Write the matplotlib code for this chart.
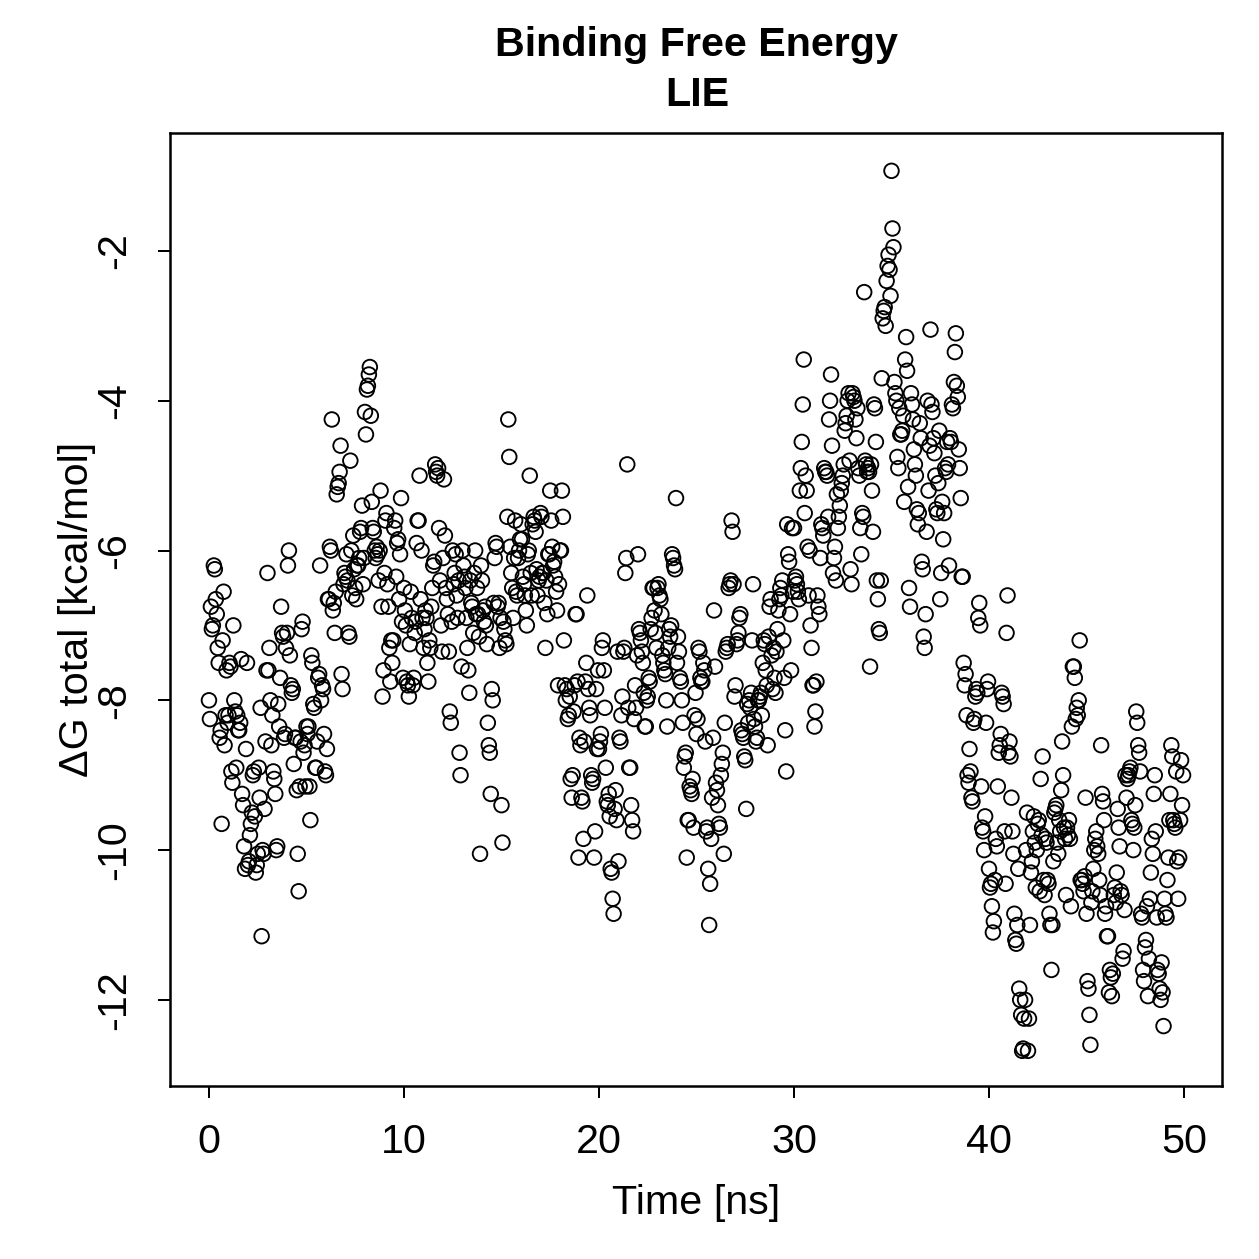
import numpy as np
import matplotlib
matplotlib.use("Agg")
import matplotlib.pyplot as plt

plt.rcParams['font.family'] = ['Liberation Sans', 'DejaVu Sans']

# dG total [kcal/mol], sampled every 0.05 ns; one row per ns
dg_00_10 = [
    -8.0, -8.25, -6.75, -7.05, -7.0, -6.2, -6.25, -6.65, -6.85, -7.3, -7.5, -8.5, -8.4, -9.65, -7.2, -6.55, -8.6, -8.2, -7.6, -8.3,
    -8.2, -7.5, -7.55, -8.95, -9.1, -7.0, -8.0, -8.15, -8.9, -8.2, -8.4, -8.4, -8.3, -7.45, -9.25, -9.4, -9.95, -10.25, -8.65, -7.5,
    -10.2, -10.15, -9.8, -9.65, -9.5, -9.0, -8.95, -9.55, -10.3, -10.2, -10.05, -8.9, -9.3, -8.1, -11.15, -10.0, -10.05, -9.45, -8.55, -7.6,
    -6.3, -7.6, -7.3, -8.0, -8.6, -8.2, -8.95, -9.05, -9.25, -10.0, -9.95, -8.05, -8.35, -7.7, -6.75, -7.1, -7.15, -8.5, -8.45, -7.3,
    -7.1, -6.2, -6.0, -7.4, -7.8, -7.9, -7.85, -8.85, -8.5, -8.5, -9.2, -10.05, -10.55, -9.15, -8.55, -7.05, -6.95, -8.7, -8.6, -9.15,
    -8.35, -8.45, -8.35, -9.15, -9.6, -7.4, -7.5, -8.05, -8.1, -8.9, -8.9, -8.55, -7.7, -7.65, -6.2, -8.0, -7.8, -7.85, -8.45, -8.95,
    -9.0, -8.65, -6.65, -6.65, -5.95, -6.0, -4.25, -6.8, -6.7, -7.1, -6.55, -5.25, -5.15, -5.1, -4.95, -4.6, -7.65, -7.85, -6.45, -6.3,
    -6.35, -6.05, -6.4, -7.1, -7.15, -4.8, -6.0, -6.6, -5.8, -6.25, -6.5, -6.65, -6.2, -6.2, -6.1, -5.75, -5.7, -5.4, -6.45, -6.1,
    -4.15, -4.45, -3.85, -3.8, -3.65, -3.55, -4.2, -5.35, -5.7, -5.75, -6.0, -6.1, -5.95, -6.05, -6.4, -6.0, -5.2, -6.75, -7.95, -7.6,
    -6.3, -5.6, -5.5, -6.45, -6.75, -7.3, -7.75, -7.2, -7.5, -7.2, -5.7, -5.6, -6.35, -5.9, -5.85, -6.65, -6.05, -5.3, -6.95, -7.7,
]
dg_10_20 = [
    -6.5, -6.8, -7.0, -7.75, -7.8, -7.95, -7.25, -6.55, -6.9, -7.8, -7.7, -7.1, -6.95, -5.9, -5.6, -5.6, -5.0, -6.65, -6.0, -6.9,
    -7.3, -7.05, -6.8, -6.9, -7.5, -7.75, -7.2, -7.3, -6.75, -6.5, -6.2, -6.15, -4.85, -4.95, -5.0, -4.9, -5.7, -6.4, -7.0, -7.35,
    -6.1, -5.05, -5.8, -6.5, -6.65, -6.85, -7.35, -8.15, -8.3, -6.95, -6.0, -6.45, -6.3, -6.05, -6.6, -6.9, -6.4, -8.7, -9.0, -7.55,
    -6.0, -6.2, -6.35, -6.5, -6.9, -7.3, -7.6, -7.9, -6.4, -6.7, -6.75, -7.1, -6.3, -6.0, -6.85, -6.5, -6.85, -7.15, -10.05, -6.2,
    -6.4, -6.8, -6.95, -6.75, -7.0, -7.25, -8.3, -8.6, -8.7, -9.25, -7.85, -8.0, -6.7, -6.1, -5.9, -5.95, -6.75, -6.7, -7.3, -6.9,
    -9.4, -9.9, -6.95, -7.05, -7.2, -7.25, -5.55, -4.25, -4.75, -5.95, -6.3, -6.5, -6.9, -6.1, -5.6, -6.55, -6.6, -6.1, -6.0, -5.85,
    -5.65, -5.85, -6.35, -6.45, -6.6, -6.8, -7.0, -6.05, -6.0, -5.0, -6.3, -6.6, -5.65, -5.55, -5.6, -5.75, -6.25, -6.6, -6.4, -6.35,
    -5.5, -5.55, -6.3, -6.3, -6.7, -7.3, -6.4, -6.85, -6.05, -6.05, -5.2, -5.6, -5.95, -6.2, -6.15, -6.35, -6.55, -6.8, -7.8, -6.45,
    -6.0, -6.0, -5.2, -5.55, -7.2, -7.8, -8.0, -7.85, -8.25, -8.2, -7.95, -9.05, -9.3, -9.0, -8.15, -7.8, -6.85, -6.85, -7.75, -10.1,
    -8.5, -8.6, -9.3, -9.35, -9.85, -8.55, -7.75, -7.5, -6.6, -7.85, -8.1, -8.2, -9.0, -9.1, -9.05, -10.1, -9.75, -7.85, -8.65, -7.6,
]
dg_20_30 = [
    -8.65, -8.55, -8.45, -7.3, -7.2, -7.6, -8.1, -8.9, -9.35, -9.4, -9.25, -9.55, -10.25, -10.3, -10.65, -10.85, -9.45, -9.2, -9.6, -7.35,
    -10.15, -8.5, -8.55, -8.2, -7.95, -7.35, -7.3, -6.3, -6.1, -4.85, -8.1, -8.9, -8.9, -9.4, -9.6, -9.75, -8.25, -7.8, -8.1, -7.4,
    -6.05, -7.05, -7.1, -7.2, -7.35, -7.5, -7.9, -8.35, -8.35, -8.0, -7.95, -7.7, -7.75, -7.05, -6.9, -6.5, -6.5, -6.8, -7.1, -7.3,
    -6.5, -6.45, -6.6, -6.65, -6.85, -7.4, -7.5, -7.6, -7.65, -8.0, -8.35, -7.3, -7.05, -7.15, -7.0, -6.05, -6.1, -6.2, -6.25, -5.3,
    -7.5, -7.15, -7.35, -7.7, -7.75, -8.0, -8.3, -8.9, -8.75, -8.7, -10.1, -9.6, -9.6, -9.15, -9.2, -9.25, -9.05, -9.7, -8.2, -7.9,
    -8.45, -8.25, -7.3, -7.35, -7.7, -7.75, -7.75, -7.5, -7.6, -8.55, -9.75, -9.7, -10.25, -11.0, -10.45, -9.85, -9.3, -8.5, -6.8, -7.55,
    -9.1, -9.2, -9.4, -9.65, -9.7, -9.0, -8.85, -8.7, -10.05, -8.3, -7.35, -7.3, -7.25, -6.5, -6.45, -6.4, -5.6, -5.75, -6.45, -7.95,
    -7.8, -7.25, -7.2, -7.1, -6.9, -6.85, -8.4, -8.45, -8.5, -8.75, -8.8, -9.45, -8.05, -8.3, -8.0, -8.1, -7.9, -7.2, -6.45, -8.25,
    -8.35, -8.55, -8.5, -8.0, -8.0, -7.95, -7.9, -8.2, -7.5, -7.2, -7.25, -7.6, -7.8, -8.6, -7.15, -6.75, -6.65, -7.4, -7.85, -7.3,
    -7.7, -7.9, -7.35, -7.05, -6.8, -6.65, -6.5, -6.6, -6.4, -7.2, -7.7, -8.4, -8.95, -5.65, -6.05, -6.15, -6.85, -7.6, -5.7, -6.55,
]
dg_30_40 = [
    -5.7, -6.4, -6.35, -6.45, -6.55, -6.65, -5.2, -4.9, -4.55, -4.05, -3.45, -5.5, -5.0, -5.2, -5.95, -6.6, -6.0, -7.0, -7.3, -7.8,
    -7.8, -8.35, -8.15, -7.75, -6.6, -6.75, -6.85, -6.1, -5.65, -5.7, -5.8, -4.9, -4.95, -4.95, -5.0, -5.55, -4.25, -4.0, -3.65, -4.6,
    -6.3, -6.1, -5.95, -6.4, -5.25, -5.7, -5.55, -5.4, -5.2, -5.1, -5.0, -4.85, -4.4, -4.3, -4.2, -4.0, -3.9, -4.8, -6.25, -6.45,
    -3.9, -3.95, -4.0, -4.25, -4.5, -4.1, -4.9, -5.0, -5.7, -6.05, -5.5, -5.55, -2.55, -4.8, -4.85, -4.95, -4.9, -4.95, -7.55, -4.85,
    -5.2, -5.75, -4.05, -4.1, -4.55, -6.4, -6.65, -7.05, -7.1, -6.4, -3.7, -2.9, -2.8, -2.75, -3.0, -2.4, -2.2, -2.05, -2.25, -2.6,
    -0.93, -1.7, -1.95, -3.75, -3.9, -4.0, -4.75, -4.9, -4.1, -4.45, -4.45, -4.4, -4.2, -5.35, -3.45, -3.15, -3.6, -5.15, -6.5, -6.75,
    -3.9, -4.05, -4.25, -4.65, -4.85, -5.0, -5.45, -5.65, -5.5, -4.3, -4.5, -6.15, -6.25, -7.15, -7.3, -6.85, -5.75, -4.0, -5.2, -4.6,
    -3.05, -4.05, -4.15, -4.5, -4.7, -5.0, -5.45, -5.5, -5.1, -4.4, -6.65, -6.3, -5.35, -5.85, -5.5, -4.9, -4.95, -4.55, -4.85, -6.2,
    -4.5, -4.55, -4.05, -4.1, -3.75, -3.35, -3.1, -3.8, -3.95, -4.65, -4.9, -5.3, -6.35, -6.35, -7.5, -7.8, -7.65, -8.2, -9.0, -9.1,
    -8.65, -8.95, -9.3, -9.35, -8.3, -8.25, -7.95, -7.85, -7.9, -6.9, -6.7, -7.0, -9.15, -9.7, -9.75, -10.0, -9.55, -8.3, -7.85, -7.75,
]
dg_40_50 = [
    -10.25, -10.5, -10.45, -10.75, -11.1, -10.95, -10.4, -9.85, -9.95, -9.15, -8.7, -8.6, -8.45, -7.9, -7.95, -8.05, -9.75, -10.45, -7.1, -6.6,
    -8.7, -8.55, -8.75, -9.3, -9.75, -10.05, -10.85, -11.2, -11.25, -11.0, -10.25, -11.85, -12.0, -12.2, -12.68, -12.65, -12.25, -12.0, -10.0, -9.5,
    -12.68, -12.25, -11.0, -10.3, -10.15, -9.75, -9.55, -9.9, -10.5, -10.0, -9.65, -9.6, -10.55, -9.05, -9.8, -8.75, -10.4, -10.6, -9.85, -9.9,
    -10.4, -10.45, -10.85, -11.0, -11.6, -11.0, -10.15, -9.5, -9.45, -9.4, -9.9, -10.05, -9.6, -9.75, -9.2, -8.55, -9.0, -9.7, -9.85, -10.6,
    -9.7, -9.8, -9.6, -9.85, -10.75, -8.35, -7.55, -7.55, -7.7, -8.25, -8.1, -8.2, -8.0, -7.2, -10.4, -10.4, -10.45, -10.55, -10.35, -9.3,
    -10.85, -11.75, -11.85, -12.2, -12.6, -10.7, -10.55, -10.25, -10.0, -9.85, -9.75, -9.95, -10.05, -10.4, -10.6, -8.6, -9.25, -9.35, -9.6, -10.85,
    -10.75, -11.15, -11.15, -11.9, -11.6, -11.7, -11.95, -11.65, -10.6, -10.5, -10.7, -10.3, -9.45, -9.7, -9.95, -10.55, -10.6, -11.45, -11.35, -10.8,
    -9.0, -9.3, -9.05, -9.0, -8.95, -8.9, -9.6, -9.65, -10.0, -9.7, -9.4, -8.15, -8.3, -8.6, -8.7, -8.95, -10.85, -10.9, -11.6, -11.75,
    -11.3, -11.2, -10.75, -11.95, -11.45, -10.65, -10.3, -9.85, -10.05, -9.25, -9.0, -9.75, -10.9, -11.6, -11.65, -11.85, -12.0, -11.5, -11.9, -12.35,
    -10.65, -10.85, -10.9, -10.4, -10.1, -9.6, -9.25, -8.6, -8.75, -9.6, -9.65, -9.7, -8.95, -10.15, -10.65, -10.1, -9.6, -8.8, -9.4, -9.0,
]

dg = np.array(dg_00_10 + dg_10_20 + dg_20_30 + dg_30_40 + dg_40_50)
time_ns = np.arange(len(dg)) * 0.05

x_ticks = [0, 10, 20, 30, 40, 50]
y_ticks = [-12, -10, -8, -6, -4, -2]

W = H = 1259
dpi = 180
fs = 16.5
fig = plt.figure(figsize=(W / dpi, H / dpi), dpi=dpi)
ax_w = (1222 - 170) / W
ax_h = (1086 - 133) / H
ax = fig.add_axes([170 / W, 1 - 1086 / H, ax_w, ax_h])

ax.scatter(time_ns, dg, s=34, facecolors='none', edgecolors='black', linewidths=0.75)

ax.set_xlim(-1.998, 51.948)
ax.set_ylim(-13.15, -0.425)
ax.set_xticks(x_ticks)
ax.set_yticks(y_ticks)
ax.set_xticklabels([str(v) for v in x_ticks], fontsize=fs)
ax.set_yticklabels([str(v) for v in y_ticks], fontsize=fs, rotation=90, va='center')
ax.tick_params(length=4.8, width=0.8, direction='out')
ax.tick_params(axis='x', pad=10)
ax.tick_params(axis='y', pad=10)
for sp in ax.spines.values():
    sp.set_linewidth(1.0)

ax.set_xlabel('Time [ns]', fontsize=fs, va='center')
ax.xaxis.set_label_coords(0.5, (1086 - 1203) / 953)
ax.set_ylabel('ΔG total [kcal/mol]', fontsize=fs, va='center')
ax.yaxis.set_label_coords((77 - 170) / 1052, 0.5)

fig.text(697 / W, 1 - 45 / H, 'Binding Free Energy', ha='center', va='center',
         fontsize=fs, fontweight='bold')
fig.text(697 / W, 1 - 95 / H, 'LIE', ha='center', va='center',
         fontsize=fs, fontweight='bold')

fig.savefig('out.png', dpi=dpi)
